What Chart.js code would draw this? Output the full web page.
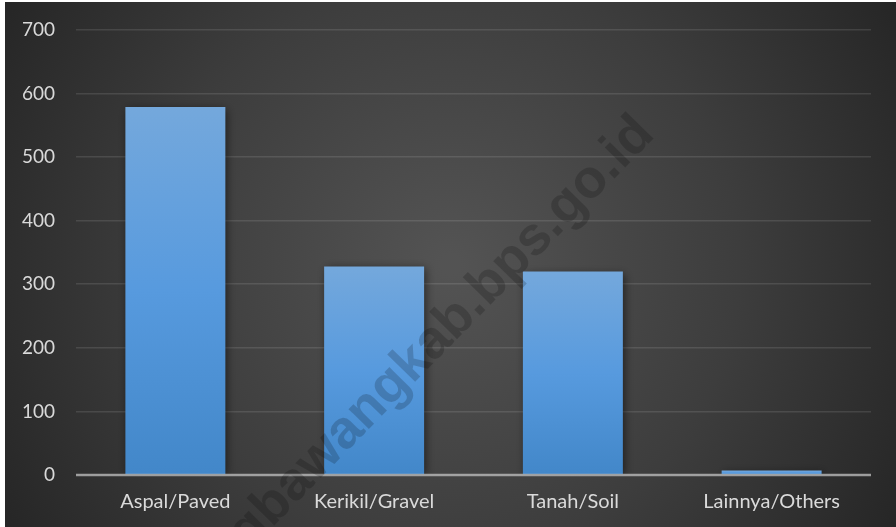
<!DOCTYPE html>
<html>
<head>
<meta charset="utf-8">
<script src="https://cdn.jsdelivr.net/npm/chart.js@4.4.1/dist/chart.umd.min.js"></script>
<style>
  html, body { margin: 0; padding: 0; background: #ffffff; }
  #wrap { position: absolute; left: 5px; top: 2px; width: 891px; height: 525px; }
</style>
</head>
<body>
<div id="wrap"><canvas id="roadChart" width="891" height="525"></canvas></div>
<script>
const categories = ["Aspal/Paved", "Kerikil/Gravel", "Tanah/Soil", "Lainnya/Others"];
const roadLength = [579, 328, 320, 7];
const yTicks = [0, 100, 200, 300, 400, 500, 600, 700];
const watermark = "tulangbawangkab.bps.go.id";

// dark panel behind the whole chart
const panelBackground = {
  id: "panelBackground",
  beforeDraw(chart) {
    const ctx = chart.ctx;
    const w = chart.width, h = chart.height;
    ctx.save();
    const g = ctx.createRadialGradient(w * 0.5, h * 0.5, 10, w * 0.5, h * 0.5, w * 0.58);
    g.addColorStop(0, "#535353");
    g.addColorStop(0.55, "#3d3d3d");
    g.addColorStop(1, "#262626");
    ctx.fillStyle = g;
    ctx.fillRect(0, 0, w, h);
    ctx.restore();
  }
};

// soft shadow under the bars
const barShadow = {
  id: "barShadow",
  beforeDatasetsDraw(chart) {
    const ctx = chart.ctx;
    ctx.save();
    ctx.shadowColor = "rgba(0,0,0,0.55)";
    ctx.shadowBlur = 9;
    ctx.shadowOffsetX = 2;
    ctx.shadowOffsetY = 2;
  },
  afterDatasetsDraw(chart) {
    chart.ctx.restore();
  }
};

// baseline at zero, then the site stamp on top
const overlay = {
  id: "overlay",
  afterDatasetsDraw(chart) {
    const ctx = chart.ctx;
    const area = chart.chartArea;
    const y0 = chart.scales.y.getPixelForValue(0);
    ctx.save();
    ctx.strokeStyle = "rgba(190,190,190,0.75)";
    ctx.lineWidth = 2.5;
    ctx.beginPath();
    ctx.moveTo(area.left, y0);
    ctx.lineTo(area.right, y0);
    ctx.stroke();

    ctx.translate(651, 134);
    ctx.rotate(-Math.PI / 4 - 0.01);
    ctx.font = "bold 54px 'Liberation Sans', Arial, sans-serif";
    ctx.fillStyle = "rgba(0,0,0,0.18)";
    ctx.textAlign = "right";
    ctx.textBaseline = "alphabetic";
    ctx.fillText(watermark, 0, 0);
    ctx.restore();
  }
};

function barFill(context) {
  const chart = context.chart;
  const y = chart.scales && chart.scales.y;
  if (!y || !chart.chartArea) return "#5b9bd5";
  const v = context.raw;
  const top = y.getPixelForValue(v);
  const bottom = y.getPixelForValue(0);
  if (!(bottom - top > 1)) return "#6aa6e0";
  const g = chart.ctx.createLinearGradient(0, top, 0, bottom);
  g.addColorStop(0, "#74a8dc");
  g.addColorStop(0.5, "#579ade");
  g.addColorStop(1, "#4287c9");
  return g;
}

const yFont = { family: "Lato, 'Open Sans', sans-serif", size: 19 };
const xFont = { family: "Lato, 'Open Sans', sans-serif", size: 20 };

new Chart(document.getElementById("roadChart"), {
  type: "bar",
  data: {
    labels: categories,
    datasets: [{
      data: roadLength,
      backgroundColor: barFill,
      borderWidth: 0,
      categoryPercentage: 1,
      barPercentage: 0.503
    }]
  },
  options: {
    responsive: false,
    animation: false,
    layout: { padding: { top: 28, right: 25, left: 0, bottom: 0 } },
    plugins: {
      legend: { display: false },
      tooltip: { enabled: false }
    },
    scales: {
      x: {
        grid: { display: false, drawTicks: false },
        border: { display: false },
        ticks: { color: "#dadada", font: xFont, padding: 15, maxRotation: 0 },
        afterFit(scale) { scale.height = 52; }
      },
      y: {
        min: 0,
        max: 700,
        afterBuildTicks(scale) { scale.ticks = yTicks.map(v => ({ value: v })); },
        grid: { color: "rgba(255,255,255,0.11)", lineWidth: 1.6, drawTicks: false },
        border: { display: false },
        ticks: { color: "#d9d9d9", font: yFont, padding: 21 },
        afterFit(scale) {
          scale.width = 71;
          scale.paddingTop = 0;
          scale.paddingBottom = 0;
        }
      }
    }
  },
  plugins: [panelBackground, barShadow, overlay]
});
</script>
</body>
</html>
